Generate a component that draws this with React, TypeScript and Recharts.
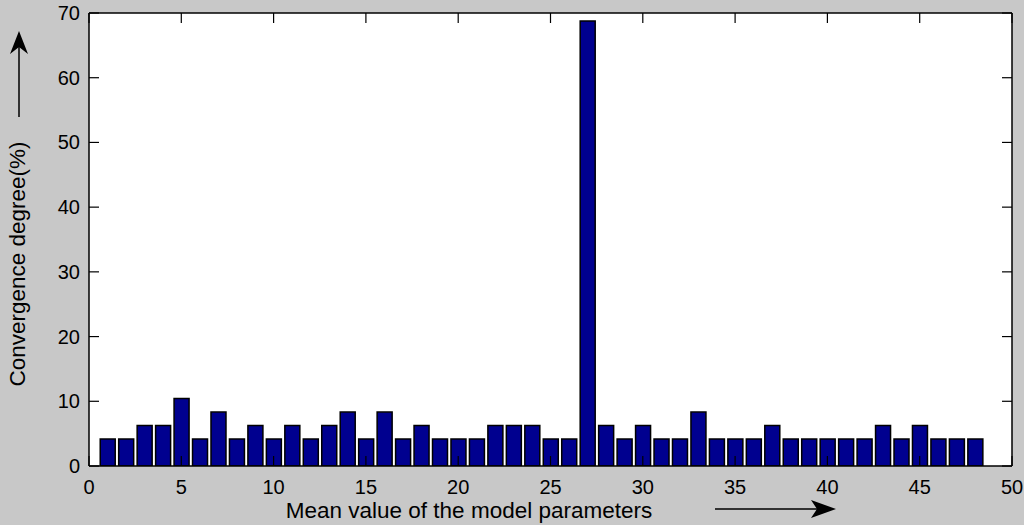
import { BarChart, Bar, XAxis, YAxis, CartesianGrid } from "recharts";

const positions = [
  1, 2, 3, 4, 5, 6, 7, 8, 9, 10, 11, 12, 13, 14, 15, 16, 17, 18, 19, 20, 21, 22, 23, 24,
  25, 26, 27, 28, 29, 30, 31, 32, 33, 34, 35, 36, 37, 38, 39, 40, 41, 42, 43, 44, 45, 46, 47, 48,
];
const degrees = [
  4.17, 4.17, 6.25, 6.25, 10.42, 4.17, 8.33, 4.17, 6.25, 4.17, 6.25, 4.17, 6.25, 8.33, 4.17, 8.33,
  4.17, 6.25, 4.17, 4.17, 4.17, 6.25, 6.25, 6.25, 4.17, 4.17, 68.75, 6.25, 4.17, 6.25, 4.17, 4.17,
  8.33, 4.17, 4.17, 4.17, 6.25, 4.17, 4.17, 4.17, 4.17, 4.17, 6.25, 4.17, 6.25, 4.17, 4.17, 4.17,
];
const xTicks = [0, 5, 10, 15, 20, 25, 30, 35, 40, 45, 50];
const yTicks = [0, 10, 20, 30, 40, 50, 60, 70];

const data = positions.map((p, i) => ({ p, v: degrees[i] }));

const FONT = "'Liberation Sans', Arial, sans-serif";
const TICK = 10;

const BottomTick = ({ x, y, payload }: any) => (
  <g>
    <line x1={x} x2={x} y1={y} y2={y - TICK} stroke="#000" strokeWidth={1.2} />
    <text x={x} y={y + 28} textAnchor="middle" fontSize={20} fontFamily={FONT} fill="#000">
      {payload.value}
    </text>
  </g>
);

const TopTick = ({ x, y }: any) => (
  <line x1={x} x2={x} y1={y} y2={y + TICK} stroke="#000" strokeWidth={1.2} />
);

const LeftTick = ({ x, y, payload }: any) => (
  <g>
    <line x1={x} x2={x + TICK} y1={y} y2={y} stroke="#000" strokeWidth={1.2} />
    <text x={x - 9} y={y + 7} textAnchor="end" fontSize={20} fontFamily={FONT} fill="#000">
      {payload.value}
    </text>
  </g>
);

const RightTick = ({ x, y }: any) => (
  <line x1={x} x2={x - TICK} y1={y} y2={y} stroke="#000" strokeWidth={1.2} />
);

const axisLine = { stroke: "#000", strokeWidth: 1.5 };

export default function App() {
  return (
    <div
      style={{
        position: "absolute",
        left: 0,
        top: 0,
        width: 1024,
        height: 525,
        background: "#c8c8c8",
        fontFamily: FONT,
      }}
    >
      <BarChart
        width={1024}
        height={525}
        data={data}
        margin={{ top: 12, right: 11, bottom: 0, left: 0 }}
        barSize={15}
      >
        <CartesianGrid fill="#fff" horizontal={false} vertical={false} />
        <XAxis
          dataKey="p"
          type="number"
          domain={[0, 50]}
          ticks={xTicks}
          height={59}
          tickSize={0}
          tickMargin={0}
          tickLine={false}
          axisLine={axisLine}
          tick={<BottomTick />}
          allowDataOverflow
        />
        <XAxis
          xAxisId="top"
          orientation="top"
          dataKey="p"
          type="number"
          domain={[0, 50]}
          ticks={xTicks}
          height={1}
          tickSize={0}
          tickMargin={0}
          tickLine={false}
          axisLine={axisLine}
          tick={<TopTick />}
          allowDataOverflow
        />
        <YAxis
          type="number"
          domain={[0, 70]}
          ticks={yTicks}
          width={89}
          tickSize={0}
          tickMargin={0}
          tickLine={false}
          axisLine={axisLine}
          tick={<LeftTick />}
          allowDataOverflow
        />
        <YAxis
          yAxisId="right"
          orientation="right"
          type="number"
          domain={[0, 70]}
          ticks={yTicks}
          width={1}
          tickSize={0}
          tickMargin={0}
          tickLine={false}
          axisLine={axisLine}
          tick={<RightTick />}
          allowDataOverflow
        />
        <Bar dataKey="v" fill="#00008f" stroke="#000" strokeWidth={1.5} isAnimationActive={false} />
      </BarChart>
      <svg
        width={1024}
        height={525}
        style={{ position: "absolute", left: 0, top: 0, pointerEvents: "none" }}
      >
        <text x={469} y={518} textAnchor="middle" fontSize={22.5} fontFamily={FONT} fill="#000">
          Mean value of the model parameters
        </text>
        <text
          x={25}
          y={264}
          textAnchor="middle"
          fontSize={22.5}
          fontFamily={FONT}
          fill="#000"
          transform="rotate(-90 25 264)"
        >
          Convergence degree(%)
        </text>
        <line x1={19} y1={117} x2={19} y2={45} stroke="#000" strokeWidth={1.5} />
        <polygon points="19,31 10,54 19,47 28,54" fill="#000" />
        <line x1={715} y1={509} x2={822} y2={509} stroke="#000" strokeWidth={1.5} />
        <polygon points="836,509 811,500 817,509 811,518" fill="#000" />
      </svg>
    </div>
  );
}
